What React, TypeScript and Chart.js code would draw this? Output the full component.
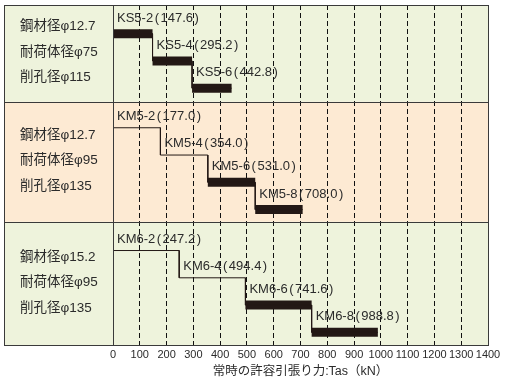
import React, { useEffect, useRef } from "react";
import { Chart, registerables } from "chart.js";

Chart.register(...registerables);

// ---- data ----
const ksModels = ["KS5-2", "KS5-4", "KS5-6"];
const ksValues = [147.6, 295.2, 442.8];
const ksThick = [true, true, true];
const ksSpecs = ["鋼材径φ12.7", "耐荷体径φ75", "削孔径φ115"];

const km5Models = ["KM5-2", "KM5-4", "KM5-6", "KM5-8"];
const km5Values = [177.0, 354.0, 531.0, 708.0];
const km5Thick = [false, false, true, true];
const km5Specs = ["鋼材径φ12.7", "耐荷体径φ95", "削孔径φ135"];

const km6Models = ["KM6-2", "KM6-4", "KM6-6", "KM6-8"];
const km6Values = [247.2, 494.4, 741.6, 988.8];
const km6Thick = [false, false, true, true];
const km6Specs = ["鋼材径φ15.2", "耐荷体径φ95", "削孔径φ135"];

const xMin = 0;
const xMax = 1400;
const xStep = 100;
const axisTitle = "常時の許容引張り力:Tas（kN）";

const groups = [
  { models: ksModels, values: ksValues, thick: ksThick, specs: ksSpecs },
  { models: km5Models, values: km5Values, thick: km5Thick, specs: km5Specs },
  { models: km6Models, values: km6Values, thick: km6Thick, specs: km6Specs },
];

// ---- layout (row slots on the y scale) ----
const GROUP_ROWS = [
  [1.05, 2.05, 3.05],
  [4.5, 5.5, 6.5, 7.5],
  [9, 10, 11, 12],
];
const BAND_EDGES = [0, 3.55, 7.95, 12.5];
const BAND_COLORS = ["#eef3dc", "#fdead3", "#eef3dc"];
const PANEL_LEFT = 4;
const INK = "#231815";
const TEXT = "#2b2b2b";
const FONT_FAMILY = '"Liberation Sans", "Noto Sans CJK JP", sans-serif';

function buildDatasets() {
  const ds: any[] = [];
  groups.forEach((g, gi) => {
    const rows = GROUP_ROWS[gi];
    const thin: { x: number; y: number }[] = [];
    let prev = 0;
    g.values.forEach((v, i) => {
      thin.push({ x: prev, y: rows[i] }, { x: v, y: rows[i] });
      prev = v;
    });
    ds.push({
      data: thin,
      borderColor: INK,
      borderWidth: 1,
      pointRadius: 0,
      tension: 0,
      fill: false,
    });
    prev = 0;
    g.values.forEach((v, i) => {
      if (g.thick[i]) {
        ds.push({
          data: [
            { x: prev, y: rows[i] },
            { x: v, y: rows[i] },
          ],
          borderColor: INK,
          borderWidth: 9,
          borderCapStyle: "butt",
          pointRadius: 0,
          tension: 0,
          fill: false,
        });
      }
      prev = v;
    });
  });
  return ds;
}

function drawPieces(ctx: CanvasRenderingContext2D, pieces: [string, number][], x: number, y: number) {
  let cx = x;
  pieces.forEach(([s, gapAfter]) => {
    ctx.fillText(s, cx, y);
    cx += ctx.measureText(s).width + gapAfter;
  });
}

const decorPlugin = {
  id: "decor",
  beforeDraw(chart: any) {
    const { ctx, chartArea } = chart;
    const y = chart.scales.y;
    ctx.save();
    for (let i = 0; i < BAND_COLORS.length; i++) {
      const t = y.getPixelForValue(BAND_EDGES[i]);
      const b = y.getPixelForValue(BAND_EDGES[i + 1]);
      ctx.fillStyle = BAND_COLORS[i];
      ctx.fillRect(PANEL_LEFT, t, chartArea.right - PANEL_LEFT, b - t);
    }
    ctx.restore();
  },
  afterDraw(chart: any) {
    const { ctx, chartArea } = chart;
    const x = chart.scales.x;
    const y = chart.scales.y;
    ctx.save();
    // frame
    ctx.strokeStyle = "#3a3a3a";
    ctx.lineWidth = 1;
    const L = PANEL_LEFT + 0.5;
    const R = Math.round(chartArea.right) + 0.5;
    const T = Math.round(chartArea.top) + 0.5;
    const B = Math.round(chartArea.bottom) - 0.5;
    ctx.strokeRect(L, T, R - L, B - T);
    ctx.beginPath();
    const pl = Math.round(chartArea.left) + 0.5;
    ctx.moveTo(pl, T);
    ctx.lineTo(pl, B);
    for (let i = 1; i < BAND_EDGES.length - 1; i++) {
      const py = Math.round(y.getPixelForValue(BAND_EDGES[i])) + 0.5;
      ctx.moveTo(L, py);
      ctx.lineTo(R, py);
    }
    ctx.stroke();

    // segment labels
    ctx.fillStyle = TEXT;
    ctx.font = `13px ${FONT_FAMILY}`;
    ctx.textAlign = "left";
    ctx.textBaseline = "alphabetic";
    groups.forEach((g, gi) => {
      const rows = GROUP_ROWS[gi];
      let prev = 0;
      g.values.forEach((v, i) => {
        const px = x.getPixelForValue(prev) + 4;
        const py = y.getPixelForValue(rows[i]) - (g.thick[i] ? 12 : 8);
        drawPieces(
          ctx,
          [
            [g.models[i], 1.5],
            ["(", 1.5],
            [v.toFixed(1), 1.5],
            [")", 0],
          ],
          px,
          py
        );
        prev = v;
      });
    });

    // spec labels in the left panel
    ctx.font = `13.5px ${FONT_FAMILY}`;
    ctx.textBaseline = "middle";
    groups.forEach((g, gi) => {
      const t = y.getPixelForValue(BAND_EDGES[gi]);
      const b = y.getPixelForValue(BAND_EDGES[gi + 1]);
      const c = (t + b) / 2 - 1.5;
      g.specs.forEach((s, i) => {
        ctx.fillText(s, PANEL_LEFT + 16, c + (i - 1) * 25.5);
      });
    });

    // axis title
    ctx.font = `12.5px ${FONT_FAMILY}`;
    ctx.textAlign = "center";
    ctx.fillText(axisTitle, (chartArea.left + chartArea.right) / 2, chartArea.bottom + 26);
    ctx.restore();
  },
};

export default function App() {
  const ref = useRef<HTMLCanvasElement | null>(null);
  useEffect(() => {
    document.body.style.margin = "0";
    const canvas = ref.current;
    if (!canvas) return;
    const chart = new Chart(canvas, {
      type: "line",
      data: { datasets: buildDatasets() },
      options: {
        animation: false,
        responsive: false,
        devicePixelRatio: 1,
        layout: { padding: { left: 113, right: 22, top: 5, bottom: 0 } },
        plugins: {
          legend: { display: false },
          tooltip: { enabled: false },
        },
        scales: {
          x: {
            type: "linear",
            min: xMin,
            max: xMax,
            afterFit: (scale: any) => {
              scale.height = 41;
            },
            ticks: {
              stepSize: xStep,
              autoSkip: false,
              maxRotation: 0,
              padding: 2,
              color: TEXT,
              font: { family: FONT_FAMILY, size: 11 },
              callback: (v: any) => String(v),
            },
            grid: {
              drawTicks: false,
              lineWidth: 1,
              color: (c: any) =>
                c.tick && (c.tick.value === xMin || c.tick.value === xMax)
                  ? "rgba(0,0,0,0)"
                  : "#111111",
            },
            border: { display: false, dash: [5, 3] },
          },
          y: {
            type: "linear",
            display: false,
            reverse: true,
            min: BAND_EDGES[0],
            max: BAND_EDGES[BAND_EDGES.length - 1],
          },
        },
      },
      plugins: [decorPlugin],
    } as any);
    return () => chart.destroy();
  }, []);
  return (
    <div style={{ width: 510, height: 387 }}>
      <canvas ref={ref} width={510} height={387} style={{ display: "block" }} />
    </div>
  );
}
